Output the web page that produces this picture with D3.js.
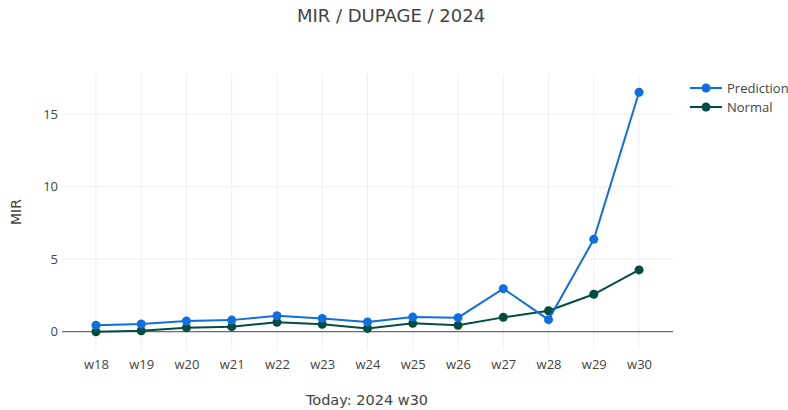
<!DOCTYPE html>
<html><head><meta charset="utf-8">
<script src="https://cdn.jsdelivr.net/npm/d3@7"></script>
<style>body{margin:0;background:#fff}svg{display:block}text{font-family:"Open Sans",Verdana,sans-serif;fill:#444}.vt{font-family:"DejaVu Sans",Verdana,sans-serif}</style>
</head><body><svg id="c" width="788" height="410"></svg>
<script>
const weeks = ["w18","w19","w20","w21","w22","w23","w24","w25","w26","w27","w28","w29","w30"];
const prediction = [0.45,0.53,0.74,0.8,1.1,0.92,0.67,1.01,0.97,2.97,0.83,6.37,16.51];
const normal = [0.0,0.07,0.28,0.35,0.65,0.51,0.23,0.58,0.44,0.99,1.45,2.58,4.26];
const yTicks = [0,5,10,15];
const seriesNames = ["Prediction","Normal"];
const seriesColors = ["#0f6fe0","#014d42"];

const svg = d3.select("#c");
const L=62,R=673,T=74,B=350;
const x = d3.scaleLinear().domain([-0.75,12.75]).range([L,R]);
const y = d3.scaleLinear().domain([-1.26,17.77]).range([B,T]);

const g = svg.append("g");
// grid
g.selectAll(".vg").data(weeks).enter().append("line")
 .attr("x1",(d,i)=>x(i)).attr("x2",(d,i)=>x(i)).attr("y1",T).attr("y2",B)
 .attr("stroke","#eee").attr("stroke-width",1);
g.selectAll(".hg").data(yTicks.filter(v=>v!==0)).enter().append("line")
 .attr("x1",L).attr("x2",R).attr("y1",d=>y(d)).attr("y2",d=>y(d))
 .attr("stroke","#eee").attr("stroke-width",1);
// zero line
g.append("line").attr("x1",L).attr("x2",R).attr("y1",y(0)).attr("y2",y(0))
 .attr("stroke","#444").attr("stroke-width",1);

// axes via d3
const xAxis = d3.axisBottom(x).tickValues(d3.range(weeks.length)).tickFormat(i=>weeks[i]).tickSize(0).tickPadding(10);
const xa = svg.append("g").attr("transform",`translate(0,${B})`).call(xAxis);
xa.select(".domain").remove();
xa.selectAll("text").attr("font-size",13).style("font-family",'"Open Sans",Verdana,sans-serif').attr("fill","#444");
const yAxis = d3.axisLeft(y).tickValues(yTicks).tickSize(0).tickPadding(4);
const ya = svg.append("g").attr("transform",`translate(${L},0)`).call(yAxis);
ya.select(".domain").remove();
ya.selectAll("text").attr("font-size",13).style("font-family",'"Open Sans",Verdana,sans-serif').attr("fill","#444");

const data = [prediction, normal];
const line = d3.line().x((d,i)=>x(i)).y(d=>y(d));
[1,0].forEach(k=>{
  svg.append("path").datum(data[k]).attr("d",line).attr("fill","none")
   .attr("stroke",seriesColors[k]).attr("stroke-width",2);
  svg.selectAll(".m"+k).data(data[k]).enter().append("circle")
   .attr("cx",(d,i)=>x(i)).attr("cy",d=>y(d)).attr("r",4.5).attr("fill",seriesColors[k]);
});

// legend
seriesNames.forEach((n,k)=>{
  const ly = 88 + k*19;
  svg.append("line").attr("x1",690).attr("x2",722).attr("y1",ly).attr("y2",ly)
   .attr("stroke",seriesColors[k]).attr("stroke-width",2);
  svg.append("circle").attr("cx",706).attr("cy",ly).attr("r",4.5).attr("fill",seriesColors[k]);
  svg.append("text").attr("x",727).attr("y",ly+4.5).attr("font-size",13).text(n);
});

// titles
svg.append("text").attr("class","vt").attr("x",391).attr("y",22).attr("text-anchor","middle").attr("font-size",18).text("MIR / DUPAGE / 2024");
svg.append("text").attr("class","vt").attr("x",367).attr("y",405).attr("text-anchor","middle").attr("font-size",14.5).text("Today: 2024 w30");
svg.append("text").attr("class","vt").attr("transform",`translate(21,${(T+B)/2}) rotate(-90)`).attr("text-anchor","middle").attr("font-size",14).text("MIR");
</script></body></html>
